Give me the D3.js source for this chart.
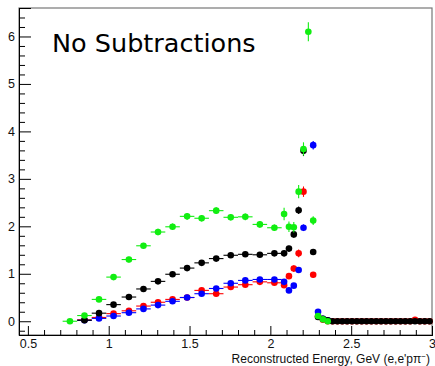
<!DOCTYPE html>
<html>
<head>
<meta charset="utf-8">
<script src="https://cdn.jsdelivr.net/npm/d3@7"></script>
<style>
  body { margin: 0; background: #fff; }
  svg { display: block; }
</style>
</head>
<body>
<div id="chart"></div>
<script>
// bin centres (coarse 0.09 GeV bins, then 0.03 GeV bins)
var coarseCenters = [0.76, 0.85, 0.94, 1.03, 1.125, 1.215, 1.305, 1.395, 1.485, 1.575, 1.665, 1.755, 1.845, 1.935, 2.025];
var fineCenters = [2.085, 2.115, 2.145, 2.175, 2.205, 2.235, 2.265, 2.295, 2.325, 2.355];
var tailCenters = [2.385, 2.415, 2.445, 2.475, 2.505, 2.535, 2.565, 2.595, 2.625, 2.655, 2.685,
                   2.715, 2.745, 2.775, 2.805, 2.835, 2.865, 2.895, 2.925, 2.955, 2.985];
var coarseHalfWidth = 0.045;
var fineHalfWidth = 0.015;

// values: coarse bins, fine bins, tail bins (null = not drawn)
var redValues = [null, 0.03, 0.08, 0.16, 0.22, 0.32, 0.40, 0.46, 0.50, 0.65, 0.58, 0.72, 0.77, 0.83, 0.81,
                 0.76, 0.95, 1.11, 1.43, 2.73, null, 0.98, 0.10, 0.03, 0.00,
                 0, 0, 0, 0, 0, 0, 0, 0, 0, 0, 0, 0, 0, 0, 0, 0, 0, 0.03, 0, 0, 0];
var redErrors = [0, 0.02, 0.02, 0.03, 0.03, 0.03, 0.03, 0.03, 0.03, 0.04, 0.04, 0.04, 0.04, 0.04, 0.04,
                 0.05, 0.06, 0.07, 0.08, 0.11, 0, 0.06, 0.02, 0.01, 0];
var blueValues = [null, 0.02, 0.06, 0.11, 0.18, 0.26, 0.34, 0.42, 0.50, 0.58, 0.69, 0.80, 0.86, 0.88, 0.88,
                  0.83, 0.65, 0.75, 1.08, 1.97, null, 3.71, 0.20, 0.05, 0.02];
var blueErrors = [0, 0.01, 0.02, 0.02, 0.02, 0.03, 0.03, 0.03, 0.03, 0.03, 0.03, 0.04, 0.04, 0.04, 0.04,
                  0.04, 0.04, 0.04, 0.05, 0.07, 0, 0.09, 0.02, 0.01, 0.01];
var blackValues = [null, 0.02, 0.17, 0.35, 0.51, 0.68, 0.84, 0.99, 1.12, 1.23, 1.32, 1.39, 1.41, 1.40, 1.43,
                   1.43, 1.53, 1.83, 2.34, 3.59, null, 1.46, 0.09, 0.05, 0.02,
                   0, 0, 0, 0, 0, 0, 0, 0, 0, 0, 0, 0, 0, 0, 0, 0, 0, 0, 0, 0, 0];
var blackErrors = [0, 0.01, 0.02, 0.03, 0.03, 0.03, 0.04, 0.04, 0.04, 0.04, 0.04, 0.04, 0.04, 0.04, 0.04,
                   0.06, 0.06, 0.07, 0.08, 0.11, 0, 0.06, 0.02, 0.01, 0.01];
var greenValues = [0.00, 0.12, 0.46, 0.93, 1.30, 1.59, 1.88, 1.99, 2.21, 2.17, 2.33, 2.19, 2.20, 2.04, 1.97,
                   2.26, 1.99, 1.98, 2.73, 3.63, 6.10, 2.12, 0.11, 0.04, 0.00];
var greenErrors = [0.02, 0.04, 0.05, 0.06, 0.06, 0.06, 0.07, 0.07, 0.07, 0.07, 0.07, 0.07, 0.07, 0.07, 0.07,
                   0.13, 0.11, 0.11, 0.14, 0.14, 0.20, 0.09, 0.03, 0.02, 0.02];

var xMajorTicks = [0.5, 1, 1.5, 2, 2.5, 3];
var xTickLabels = ["0.5", "1", "1.5", "2", "2.5", "3"];
var yMajorTicks = [0, 1, 2, 3, 4, 5, 6];
var yTickLabels = ["0", "1", "2", "3", "4", "5", "6"];

var titleText = "No Subtractions";

function init() {
    var w = 435, h = 366;
    var left = 19, right = 432, top = 8, bottom = 335;

    var xScale = d3.scaleLinear().domain([0.445, 3.0]).range([left, right]);
    var yScale = d3.scaleLinear().domain([-0.29, 6.6]).range([bottom, top]);

    var svg = d3.select("#chart").append("svg")
        .attr("width", w)
        .attr("height", h)
        .style("background-color", "white");

    // frame
    svg.append("rect")
        .attr("x", left).attr("y", top)
        .attr("width", right - left).attr("height", bottom - top)
        .attr("fill", "none")
        .attr("stroke", "#777")
        .attr("stroke-width", 1.2);

    // minor ticks
    var xMinor = d3.range(0.5, 3.001, 0.1).filter(function(v) { return Math.abs(v * 2 - Math.round(v * 2)) > 0.01; });
    var yMinor = d3.range(-0.2, 6.601, 0.2).filter(function(v) { return Math.abs(v - Math.round(v)) > 0.01; });

    var xAxisMinor = d3.axisBottom(xScale).tickValues(xMinor).tickSize(-5).tickFormat("");
    var xAxis = d3.axisBottom(xScale).tickValues(xMajorTicks).tickSize(-9).tickPadding(4)
        .tickFormat(function(d, i) { return xTickLabels[i]; });
    var yAxisMinor = d3.axisLeft(yScale).tickValues(yMinor).tickSize(-6).tickFormat("");
    var yAxis = d3.axisLeft(yScale).tickValues(yMajorTicks).tickSize(-12).tickPadding(4)
        .tickFormat(function(d, i) { return yTickLabels[i]; });

    [xAxisMinor, xAxis].forEach(function(ax) {
        svg.append("g").attr("class", "xaxis")
            .attr("transform", "translate(0," + bottom + ")")
            .call(ax);
    });
    [yAxisMinor, yAxis].forEach(function(ax) {
        svg.append("g").attr("class", "yaxis")
            .attr("transform", "translate(" + left + ",0)")
            .call(ax);
    });
    svg.selectAll(".xaxis text, .yaxis text")
        .attr("font-family", "'Liberation Sans', Arial, sans-serif")
        .attr("font-size", 12.5)
        .attr("fill", "#111");
    svg.selectAll(".xaxis .domain, .yaxis .domain").attr("stroke", "#000");
    svg.selectAll(".xaxis line, .yaxis line").attr("stroke", "#000");

    // axis title
    var xt = svg.append("text")
        .attr("x", 430).attr("y", 363)
        .attr("text-anchor", "end")
        .attr("font-family", "'Liberation Sans', Arial, sans-serif")
        .attr("font-size", 12)
        .attr("fill", "#111")
        .text("Reconstructed Energy, GeV (e,e'p\u03c0");
    xt.append("tspan").attr("dy", -4).attr("font-size", 8).text("\u2212");
    xt.append("tspan").attr("dy", 4).text(")");

    // title
    svg.append("text")
        .attr("x", 52).attr("y", 52)
        .attr("font-family", "'DejaVu Sans', sans-serif")
        .attr("font-size", 25.5)
        .attr("fill", "#000")
        .text(titleText);

    var centers = coarseCenters.concat(fineCenters, tailCenters);
    function halfWidth(i) { return i < coarseCenters.length ? coarseHalfWidth : fineHalfWidth; }

    var series = [
        { color: "#ff0000", values: redValues, errors: redErrors },
        { color: "#0000ff", values: blueValues, errors: blueErrors },
        { color: "#000000", values: blackValues, errors: blackErrors },
        { color: "#11ee11", values: greenValues, errors: greenErrors }
    ];

    series.forEach(function(s) {
        var pts = [];
        s.values.forEach(function(v, i) {
            if (v === null || v === undefined) return;
            pts.push({ x: centers[i], y: v, hw: halfWidth(i), e: s.errors[i] || 0 });
        });
        var g = svg.append("g");
        g.selectAll("line.h").data(pts).enter().append("line")
            .attr("x1", function(d) { return xScale(d.x - d.hw); })
            .attr("x2", function(d) { return xScale(d.x + d.hw); })
            .attr("y1", function(d) { return yScale(d.y); })
            .attr("y2", function(d) { return yScale(d.y); })
            .attr("stroke", s.color).attr("stroke-width", 1.1);
        g.selectAll("line.v").data(pts).enter().append("line")
            .attr("x1", function(d) { return xScale(d.x); })
            .attr("x2", function(d) { return xScale(d.x); })
            .attr("y1", function(d) { return yScale(d.y - d.e); })
            .attr("y2", function(d) { return yScale(d.y + d.e); })
            .attr("stroke", s.color).attr("stroke-width", 1.1);
        g.selectAll("circle").data(pts).enter().append("circle")
            .attr("cx", function(d) { return xScale(d.x); })
            .attr("cy", function(d) { return yScale(d.y); })
            .attr("r", 3.3)
            .attr("fill", s.color);
    });
}
window.onload = init;
</script>
</body>
</html>
